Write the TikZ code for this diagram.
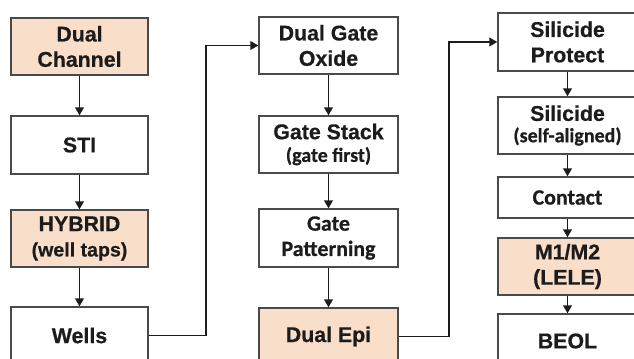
\documentclass[tikz,border=0pt]{standalone}
\usepackage{fontspec}
\setmainfont{Liberation Sans}[BoldFeatures={FakeBold=0.6}]
\newfontfamily\calfont{Carlito}[BoldFeatures={FakeBold=0.6}]
\usetikzlibrary{arrows.meta}
\definecolor{peach}{HTML}{F9DFCA}
\definecolor{boxline}{HTML}{4A4A4A}
\definecolor{txt}{HTML}{1C1C1C}
\begin{document}
\begin{tikzpicture}[x=0.75pt,y=-0.75pt,
  box/.style={draw=boxline,line width=1pt,fill=white,text=txt,align=center,
    inner sep=0pt,font=\bfseries\fontsize{16}{19}\selectfont},
  wA/.style={minimum width=102.75pt},
  wB/.style={minimum width=104.25pt},
  hN/.style={minimum height=42.75pt},
  hept/.style={fill=peach},
  conn/.style={draw=txt,line width=1.4pt,-{Triangle[length=6pt,width=6.5pt]}}]
\useasboundingbox (0,0) rectangle (634,359);
\fill[white] (0,0) rectangle (634,359);
% column 1
\node[box,wA,hN,hept] (dc) at (79.5,46.5) {Dual\\Channel};
\node[box,wA,minimum height=43.5pt] (sti) at (79.5,145) {STI};
\node[box,wA,hN,hept] (hyb) at (79.5,238.5) {HYBRID\\{\fontsize{14.7}{19}\selectfont(well taps)}};
\node[box,wA,hN] (wells) at (79.5,335.5) {Wells};
% column 2
\node[box,wB,hN] (dgo) at (328.5,45.5) {Dual Gate\\Oxide};
\node[box,wB,hN] (gs) at (328.5,144.5) {Gate Stack\\[-2pt]{\calfont\fontsize{15}{18}\selectfont(gate first)}};
\node[box,wB,minimum height=43.5pt,font=\calfont\bfseries\fontsize{16.4}{19}\selectfont] (gp) at (328.5,238) {Gate\\Patterning};
\node[box,wB,hN,hept] (epi) at (328.5,336.5) {Dual Epi};
% column 3
\node[box,wB,minimum height=43.5pt] (sp) at (567.5,42) {Silicide\\Protect};
\node[box,wB,hN] (sil) at (567.5,125.5) {Silicide\\[-3pt]{\calfont\fontsize{15}{18}\selectfont(self-aligned)}};
\node[box,wB,minimum height=30.75pt,font=\calfont\bfseries\fontsize{16.4}{19}\selectfont] (con) at (567.5,197.5) {Contact};
\node[box,wB,hN,hept] (m12) at (567.5,266.5) {M1/M2\\(LELE)};
\node[box,wB,minimum height=40.5pt] (beol) at (567.5,341) {BEOL};
% connectors
\draw[conn] (dc) -- (sti);
\draw[conn] (sti) -- (hyb);
\draw[conn] (hyb) -- (wells);
\draw[conn] (wells.east) -- ++(57,0) |- (dgo.west);
\draw[conn] (dgo) -- (gs);
\draw[conn] (gs) -- (gp);
\draw[conn] (gp) -- (epi);
\draw[conn] (epi.east) -- ++(50,0) |- (sp.west);
\draw[conn] (sp) -- (sil);
\draw[conn] (sil) -- (con);
\draw[conn] (con) -- (m12);
\draw[conn] (m12) -- (beol);
\end{tikzpicture}
\end{document}
